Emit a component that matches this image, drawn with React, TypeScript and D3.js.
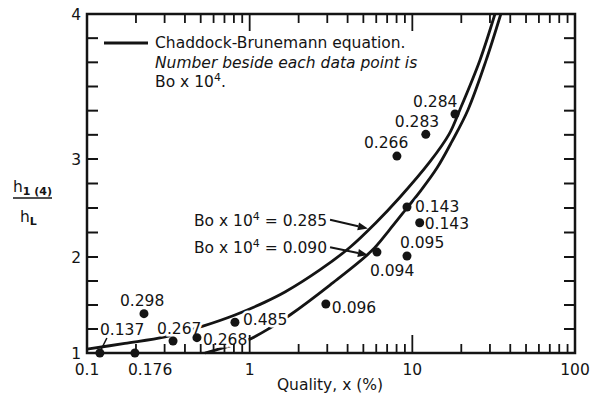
import React from 'react';
import * as d3 from 'd3';

// Data points: quality x (%), h1(4)/hL, Bo x 10^4 label
const pointQuality = [18.3, 12.1, 8.04, 9.27, 11.1, 9.27, 6.06, 2.94, 0.224, 0.12, 0.197, 0.338, 0.474, 0.812];
const pointRatio = [3.31, 3.17, 3.02, 2.51, 2.35, 2.01, 2.05, 1.51, 1.41, 1.0, 1.0, 1.125, 1.16, 1.32];
const pointBo = ['0.284', '0.283', '0.266', '0.143', '0.143', '0.095', '0.094', '0.096', '0.298', '0.137', '0.176', '0.267', '0.268', '0.485'];

// label placement offsets (px) relative to each point
const labelDx = [-42, -31, -33, 8, 5, -7, -7, 6, -24, 0, -7, -16, 6, 8];
const labelDy = [-7, -7, -8, 5, 6, -8, 24, 9, -8, -18, 22, -7, 7, 3];

// Chaddock-Brunemann curve, Bo x 10^4 = 0.285
const upperQuality = [0.1, 0.171, 0.302, 0.516, 0.812, 1.242, 1.648, 2.7, 4.14, 5.89, 8.39, 12.8, 16.8, 19.6, 26.0, 32.2];
const upperRatio = [1.04, 1.1, 1.167, 1.28, 1.396, 1.53, 1.635, 1.865, 2.1, 2.34, 2.61, 2.97, 3.17, 3.34, 3.68, 4.0];

// Chaddock-Brunemann curve, Bo x 10^4 = 0.090
const lowerQuality = [0.531, 0.676, 0.976, 1.333, 1.769, 3.115, 5.6, 7.1, 9.27, 11.3, 14.2, 17.5, 22.0, 28.4, 35.0];
const lowerRatio = [1.0, 1.05, 1.135, 1.26, 1.396, 1.708, 2.06, 2.26, 2.5, 2.68, 2.91, 3.12, 3.34, 3.68, 4.0];

// axis ticks
const xTickLabels = ['0.1', '1', '10', '100'];
const xTickValues = [0.1, 1, 10, 100];
const yTickValues = [1, 2, 3, 4];

// annotation arrows (data coords): start -> end
const annotBo = ['0.285', '0.090'];
const annotStartX = [3.12, 3.12];
const annotStartY = [2.38, 2.1];
const annotEndX = [5.33, 5.33];
const annotEndY = [2.29, 2.02];

const FONT = '"DejaVu Sans", sans-serif';
const FS = 15.5;
const INK = '#141414';

export default function App() {
  const x = d3.scaleLog().domain([0.1, 100]).range([87, 575]);
  const y = d3.scaleLinear().domain([1, 2, 3, 4]).range([353, 257, 159, 14]);
  const left = 87, right = 575, top = 14, bottom = 353;

  const line = d3
    .line<[number, number]>()
    .x((d) => x(d[0]))
    .y((d) => y(d[1]))
    .curve(d3.curveCatmullRom.alpha(0.5));

  const upperPath = line(upperQuality.map((q, i) => [q, upperRatio[i]]) as [number, number][]) || '';
  const lowerPath = line(lowerQuality.map((q, i) => [q, lowerRatio[i]]) as [number, number][]) || '';

  // minor x ticks
  const minorX: number[] = [];
  [0.1, 1, 10].forEach((d) => {
    for (let k = 2; k <= 9; k++) minorX.push(d * k);
  });
  const majorX = [1, 10];

  // y ticks: 0.25 steps 1..3, sixths 3..4
  const yTicks: number[] = [];
  for (let v = 1; v <= 3.001; v += 0.25) yTicks.push(v);
  for (let k = 1; k <= 6; k++) yTicks.push(3 + k / 6);

  const labels = pointBo.map((b, i) => ({
    text: b,
    x: x(pointQuality[i]) + labelDx[i],
    y: y(pointRatio[i]) + labelDy[i],
  }));

  const arrows = annotBo.map((b, i) => {
    const x1 = x(annotStartX[i]);
    const y1 = y(annotStartY[i]);
    const x2 = x(annotEndX[i]);
    const y2 = y(annotEndY[i]);
    const ang = Math.atan2(y2 - y1, x2 - x1);
    const L = 10, W = 4;
    const bx = x2 - L * Math.cos(ang);
    const by = y2 - L * Math.sin(ang);
    const head = `M${x2},${y2} L${bx + W * Math.sin(ang)},${by - W * Math.cos(ang)} L${bx - W * Math.sin(ang)},${by + W * Math.cos(ang)} Z`;
    return { b, x1, y1, bx, by, head };
  });

  // leader for the 0.137 label
  const i137 = pointBo.indexOf('0.137');
  const p137x = x(pointQuality[i137]);
  const p137y = y(pointRatio[i137]);

  return (
    <svg
      width={590}
      height={398}
      style={{ position: 'absolute', left: 0, top: 0, background: '#fff' }}
      fontFamily={FONT}
    >
      <rect x={0} y={0} width={590} height={398} fill="#fff" />
      {/* curves */}
      <path d={upperPath} fill="none" stroke={INK} strokeWidth={2.8} />
      <path d={lowerPath} fill="none" stroke={INK} strokeWidth={2.8} />

      {/* label halos */}
      {labels.map((l, i) => (
        <text key={'h' + i} x={l.x} y={l.y} fontSize={FS} fill="#fff" stroke="#fff" strokeWidth={5}>
          {l.text}
        </text>
      ))}

      {/* frame */}
      <rect x={left} y={top} width={right - left} height={bottom - top} fill="none" stroke={INK} strokeWidth={2.5} />

      {/* x ticks */}
      {minorX.map((v, i) => (
        <g key={'mx' + i}>
          <line x1={x(v)} x2={x(v)} y1={bottom} y2={bottom - 9} stroke={INK} strokeWidth={1.8} />
          <line x1={x(v)} x2={x(v)} y1={top} y2={top + 9} stroke={INK} strokeWidth={1.8} />
        </g>
      ))}
      {majorX.map((v, i) => (
        <g key={'Mx' + i}>
          <line x1={x(v)} x2={x(v)} y1={bottom} y2={bottom - 18} stroke={INK} strokeWidth={1.8} />
          <line x1={x(v)} x2={x(v)} y1={top} y2={top + 17} stroke={INK} strokeWidth={1.8} />
        </g>
      ))}
      {/* y ticks */}
      {yTicks.map((v, i) => (
        <g key={'yt' + i}>
          <line x1={left} x2={left + 11} y1={y(v)} y2={y(v)} stroke={INK} strokeWidth={2} />
          <line x1={right} x2={right - 11} y1={y(v)} y2={y(v)} stroke={INK} strokeWidth={2} />
        </g>
      ))}

      {/* tick labels */}
      {yTickValues.map((v) => (
        <text key={'yl' + v} x={81} y={y(v) + 5.5} fontSize={FS} textAnchor="end" fill={INK}>
          {v}
        </text>
      ))}
      {xTickValues.map((v, i) => (
        <text key={'xl' + v} x={x(v)} y={375} fontSize={FS} textAnchor="middle" fill={INK}>
          {xTickLabels[i]}
        </text>
      ))}

      {/* axis titles */}
      <text x={330} y={390} fontSize={FS} textAnchor="middle" fill={INK}>
        Quality, x (%)
      </text>
      <text x={13} y={192} fontSize={FS} fill={INK}>
        h
        <tspan fontSize={11} fontWeight="bold" dy={3}>
          1 (4)
        </tspan>
      </text>
      <line x1={13} x2={52} y1={198} y2={198} stroke={INK} strokeWidth={1.5} />
      <text x={20} y={222} fontSize={FS} fill={INK}>
        h
        <tspan fontSize={11} fontWeight="bold" dy={3}>
          L
        </tspan>
      </text>

      {/* points */}
      {pointQuality.map((q, i) => (
        <circle key={'p' + i} cx={x(q)} cy={y(pointRatio[i])} r={4.5} fill={INK} />
      ))}

      {/* point labels */}
      {labels.map((l, i) => (
        <text key={'l' + i} x={l.x} y={l.y} fontSize={FS} fill={INK}>
          {l.text}
        </text>
      ))}
      <line x1={p137x + 7} y1={p137y - 15} x2={p137x + 1} y2={p137y - 3} stroke={INK} strokeWidth={1.5} />

      {/* annotation arrows */}
      {arrows.map((a, i) => (
        <g key={'a' + i}>
          <line x1={a.x1} y1={a.y1} x2={a.bx} y2={a.by} stroke={INK} strokeWidth={2} />
          <path d={a.head} fill={INK} />
          <text x={a.x1 - 3} y={a.y1 + 6} fontSize={FS} textAnchor="end" fill={INK}>
            Bo x 10
            <tspan fontSize={11} dy={-6}>4</tspan>
            <tspan dy={6}> = {a.b}</tspan>
          </text>
        </g>
      ))}

      {/* legend */}
      <line x1={104} x2={148} y1={43} y2={43} stroke={INK} strokeWidth={3} />
      <text x={155} y={48} fontSize={FS} fill={INK}>
        Chaddock-Brunemann equation.
      </text>
      <text x={155} y={68} fontSize={FS} fontStyle="italic" fill={INK}>
        Number beside each data point is
      </text>
      <text x={155} y={87} fontSize={FS} fill={INK}>
        Bo x 10
        <tspan fontSize={11} dy={-6}>4</tspan>
        <tspan dy={6}>.</tspan>
      </text>
    </svg>
  );
}
